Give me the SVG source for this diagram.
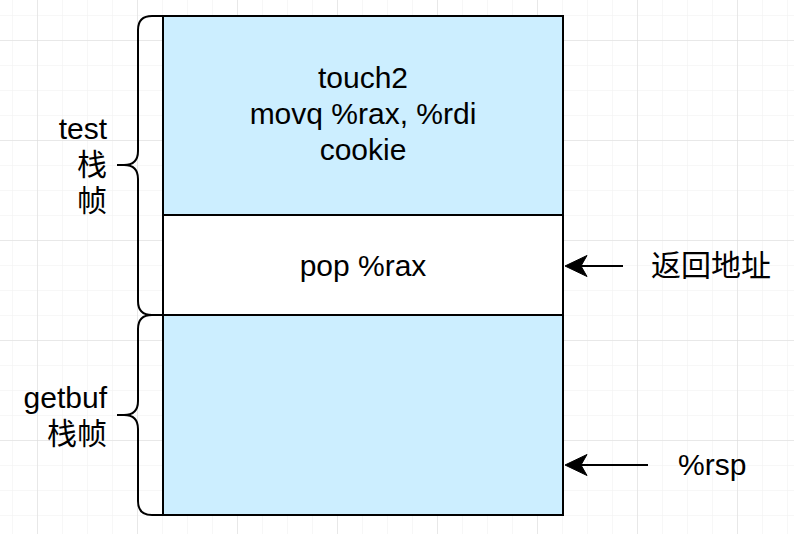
<svg xmlns="http://www.w3.org/2000/svg" width="794" height="534" viewBox="0 0 794 534">
<defs>
<pattern id="minor" x="12" y="15" width="25" height="25" patternUnits="userSpaceOnUse">
<path d="M0,0 H25 M0,0 V25" fill="none" stroke="#f0f0f0" stroke-width="1"/>
</pattern>
<pattern id="major" x="37" y="40" width="100" height="100" patternUnits="userSpaceOnUse">
<path d="M0,0 H100 M0,0 V100" fill="none" stroke="#d9d9d9" stroke-width="1"/>
</pattern>
<path id="head" d="M0,0 L22,-10.5 L16,0 L22,10.5 Z"/>
</defs>
<style>
.t{font-family:"Liberation Sans",Arial,"Noto Sans CJK SC",sans-serif;font-size:30px;fill:#000}
.c{text-anchor:middle}
.r{text-anchor:end}
.box{stroke:#000;stroke-width:2}
.br{fill:none;stroke:#000;stroke-width:2}
.ln{fill:none;stroke:#000;stroke-width:2}
.hd{fill:#000;stroke:#000;stroke-width:1;stroke-linejoin:miter}
</style>
<rect width="794" height="534" fill="#fff"/>
<rect width="794" height="534" fill="url(#minor)"/>
<rect width="794" height="534" fill="url(#major)"/>

<g id="test-frame">
<rect class="box" x="163" y="16" width="400" height="199" fill="#cceeff"/>
<text class="t c" x="363" y="88">touch2</text>
<text class="t c" x="363" y="124">movq %rax, %rdi</text>
<text class="t c" x="363" y="160">cookie</text>
</g>
<g id="ret-addr">
<rect class="box" x="163" y="215" width="400" height="100" fill="#fff"/>
<text class="t c" x="363" y="276">pop %rax</text>
</g>
<g id="getbuf-frame">
<rect class="box" x="163" y="315" width="400" height="200" fill="#cceeff"/>
</g>
<g id="brace-test">
<path class="br" d="M163,16 H152 Q138,16 138,30 V151 Q138,165 124,165 H117 M124,165 Q138,165 138,179 V301 Q138,315 152,315 H163"/>
<text class="t r" x="107" y="139">test</text>
<text class="t r" x="107" y="175">栈</text>
<text class="t r" x="107" y="211">帧</text>
</g>
<g id="brace-getbuf">
<path class="br" d="M163,315 H152 Q138,315 138,329 V401 Q138,415 124,415 H117 M124,415 Q138,415 138,429 V501 Q138,515 152,515 H163"/>
<text class="t r" x="107" y="408">getbuf</text>
<text class="t r" x="107" y="444">栈帧</text>
</g>
<g id="label-ret">
<text class="t" x="651" y="276">返回地址</text>
</g>
<g id="label-rsp">
<text class="t" x="678" y="475">%rsp</text>
</g>
<g id="connectors">
<path class="ln" d="M623,266 H580"/>
<use href="#head" class="hd" x="565" y="266"/>
<path class="ln" d="M648,465 H580"/>
<use href="#head" class="hd" x="565" y="465"/>
</g>
</svg>
